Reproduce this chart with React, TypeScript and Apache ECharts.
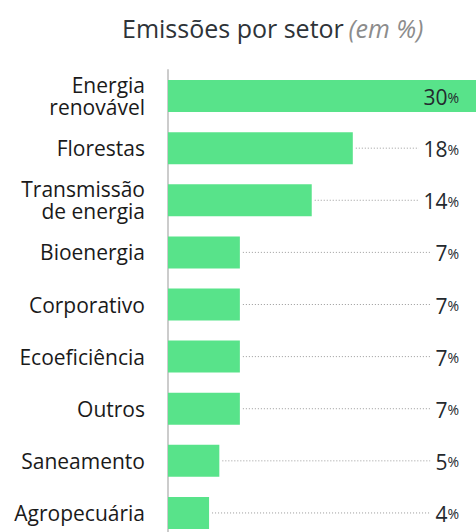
import React, { useEffect, useRef } from "react";
import * as echarts from "echarts";

const categories = [
  "Energia\nrenovável",
  "Florestas",
  "Transmissão\nde energia",
  "Bioenergia",
  "Corporativo",
  "Ecoeficiência",
  "Outros",
  "Saneamento",
  "Agropecuária",
];
const values = [30, 18, 14, 7, 7, 7, 7, 5, 4];
const titleMain = "Emissões por setor";
const titleSub = "(em %)";
const FONT = "'Open Sans', 'Noto Sans', sans-serif";

export default function App() {
  const ref = useRef<HTMLDivElement>(null);
  useEffect(() => {
    if (!ref.current) return;
    const chart = echarts.init(ref.current, undefined, { renderer: "svg" });
    const maxV = Math.max(...values);
    chart.setOption({
      animation: false,
      backgroundColor: "#ffffff",
      textStyle: { fontFamily: FONT },
      title: {
        left: 117,
        top: 10,
        text: `{a|${titleMain}} {b|${titleSub}}`,
        textStyle: {
          fontWeight: "normal",
          rich: {
            a: { fontSize: 25, color: "#2e3338", fontWeight: "normal", fontFamily: FONT },
            b: { fontSize: 25, color: "#8c8c8c", fontStyle: "italic", fontWeight: "normal", fontFamily: FONT },
          },
        },
      },
      grid: { left: 168, right: 0, top: 70, bottom: 0, containLabel: false },
      xAxis: {
        type: "value",
        min: 0,
        max: maxV,
        show: false,
      },
      yAxis: {
        type: "category",
        data: categories,
        inverse: true,
        axisLine: { show: true, lineStyle: { color: "#cccccc", width: 2 } },
        axisTick: { show: false },
        axisLabel: {
          margin: 23,
          fontSize: 21,
          lineHeight: 22,
          color: "#1a1a1a",
          fontFamily: FONT,
          align: "right",
        },
      },
      series: [
        {
          type: "bar",
          data: values,
          barWidth: 32,
          itemStyle: { color: "#58e38a" },
          z: 2,
        },
        {
          type: "custom",
          data: values.map((v, i) => [v, i]),
          z: 3,
          renderItem: (params: any, api: any) => {
            const v = api.value(0);
            const idx = api.value(1);
            const end = api.coord([v, idx]);
            const right = api.getWidth() - 17;
            const inside = end[0] > right - 45;
            const children: any[] = [];
            if (!inside) {
              children.push({
                type: "line",
                shape: { x1: end[0] + 3, y1: end[1], x2: right - 5, y2: end[1] },
                style: { stroke: "#9a9a9a", lineWidth: 1, lineDash: [1, 2] },
              });
            }
            children.push({
              type: "text",
              x: right,
              y: end[1] + 1,
              style: {
                text: `{n|${v}}{p|%}`,
                align: "right",
                verticalAlign: "middle",
                backgroundColor: inside ? "transparent" : "#ffffff",
                padding: [0, 0, 0, 5],
                rich: {
                  n: { fontSize: 21, fill: "#24292e", fontFamily: FONT },
                  p: { fontSize: 14, fill: "#24292e", fontFamily: FONT },
                },
              },
            });
            return { type: "group", children };
          },
        },
      ],
    });
    return () => chart.dispose();
  }, []);
  return (
    <div
      ref={ref}
      style={{ position: "fixed", top: 0, left: 0, width: 476, height: 539 }}
    />
  );
}
